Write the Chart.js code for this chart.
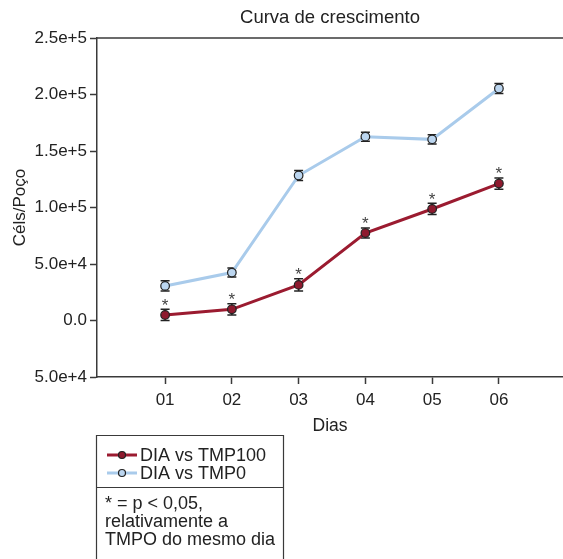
<!DOCTYPE html>
<html>
<head>
<meta charset="utf-8">
<script src="https://cdn.jsdelivr.net/npm/chart.js@4/dist/chart.umd.min.js"></script>
<style>
  html, body { margin: 0; padding: 0; background: #fff; }
  canvas { display: block; }
</style>
</head>
<body>
<canvas id="c" width="563" height="559"></canvas>
<script>
// Growth curve: cells per well over six days, two conditions
const days = [1, 2, 3, 4, 5, 6];
const dayLabels = ['01', '02', '03', '04', '05', '06'];
const tmp100 = [4900, 9900, 31500, 77400, 98700, 121200];
const tmp100Err = [5000, 5000, 5500, 4500, 5000, 5000];
const tmp0 = [30600, 42400, 128300, 162700, 160300, 205300];
const tmp0Err = [4500, 4000, 4500, 4000, 4000, 4500];
const significant = [true, true, true, true, true, true];
const yTickValues = [-50000, 0, 50000, 100000, 150000, 200000, 250000];
const yTickLabels = ['5.0e+4', '0.0', '5.0e+4', '1.0e+5', '1.5e+5', '2.0e+5', '2.5e+5'];
const seriesNames = ['DIA vs TMP100', 'DIA vs TMP0'];
const noteLines = ['* = p < 0,05,', 'relativamente a', 'TMPO do mesmo dia'];
const chartTitle = 'Curva de crescimento';

const FONT = "'Liberation Sans', Arial, sans-serif";
const AXIS = '#3a3a3a';
const TEXT = '#222';
const RED = '#9b1b30';
const RED_FILL = '#8e1a2e';
const BLUE = '#a9cbeb';
const BLUE_FILL = '#bcd6f0';

Chart.defaults.font.family = FONT;
Chart.defaults.color = TEXT;

const toPoints = vals => days.map((d, i) => ({ x: d, y: vals[i] }));

// Error bars, significance marks, top frame line, title and legend box
const decorations = {
  id: 'decorations',
  beforeDatasetsDraw(chart) {
    const { ctx, scales } = chart;
    const x = scales.x, y = scales.y;
    const errs = [tmp100Err, tmp0Err];
    ctx.save();
    ctx.strokeStyle = '#222';
    ctx.lineWidth = 1.5;
    chart.data.datasets.forEach((ds, di) => {
      ds.data.forEach((p, i) => {
        const px = x.getPixelForValue(p.x);
        const top = y.getPixelForValue(p.y + errs[di][i]);
        const bot = y.getPixelForValue(p.y - errs[di][i]);
        ctx.beginPath();
        ctx.moveTo(px, top); ctx.lineTo(px, bot);
        ctx.moveTo(px - 4.5, top); ctx.lineTo(px + 4.5, top);
        ctx.moveTo(px - 4.5, bot); ctx.lineTo(px + 4.5, bot);
        ctx.stroke();
      });
    });
    ctx.restore();
  },
  afterDraw(chart) {
    const { ctx, chartArea, scales } = chart;
    const x = scales.x, y = scales.y;
    ctx.save();
    // frame line across the top of the plot
    ctx.strokeStyle = AXIS;
    ctx.lineWidth = 1.5;
    ctx.beginPath();
    ctx.moveTo(chartArea.left, chartArea.top);
    ctx.lineTo(chartArea.right, chartArea.top);
    ctx.stroke();

    // significance marks above the TMP100 series
    ctx.fillStyle = '#444';
    ctx.font = '17px ' + FONT;
    ctx.textAlign = 'center';
    ctx.textBaseline = 'alphabetic';
    days.forEach((d, i) => {
      if (!significant[i]) return;
      const px = x.getPixelForValue(d);
      const py = y.getPixelForValue(tmp100[i] + tmp100Err[i]) - 8;
      ctx.fillText('*', px, py + 9.5);
    });

    // title
    ctx.fillStyle = TEXT;
    ctx.font = '18.5px ' + FONT;
    ctx.textBaseline = 'middle';
    ctx.fillText(chartTitle, (chartArea.left + chartArea.right) / 2, 18);

    // legend box
    const bx = 96.5, bRight = 283.5, bTop = 435.5, bDiv = 487.5, bBottom = 560;
    ctx.strokeStyle = AXIS;
    ctx.lineWidth = 1.2;
    ctx.beginPath();
    ctx.moveTo(bx, bBottom); ctx.lineTo(bx, bTop); ctx.lineTo(bRight, bTop); ctx.lineTo(bRight, bBottom);
    ctx.moveTo(bx, bDiv); ctx.lineTo(bRight, bDiv);
    ctx.stroke();

    const rows = [455, 473];
    chart.data.datasets.forEach((ds, di) => {
      const ry = rows[di];
      ctx.strokeStyle = ds.borderColor;
      ctx.lineWidth = 3;
      ctx.beginPath();
      ctx.moveTo(107, ry); ctx.lineTo(137, ry);
      ctx.stroke();
      ctx.beginPath();
      ctx.arc(122, ry, 3.5, 0, Math.PI * 2);
      ctx.fillStyle = ds.pointBackgroundColor;
      ctx.fill();
      ctx.strokeStyle = '#222';
      ctx.lineWidth = 1.2;
      ctx.stroke();
      ctx.fillStyle = TEXT;
      ctx.textAlign = 'left';
      ctx.font = '18px ' + FONT;
      ctx.fillText(ds.label, 140, ry + 1);
    });

    ctx.textAlign = 'left';
    noteLines.forEach((t, i) => {
      ctx.fillText(t, 105, 504 + i * 18);
    });
    ctx.restore();
  }
};

new Chart(document.getElementById('c'), {
  type: 'line',
  data: {
    datasets: [
      {
        label: seriesNames[0],
        data: toPoints(tmp100),
        borderColor: RED,
        borderWidth: 3,
        pointBackgroundColor: RED_FILL,
        pointBorderColor: '#222',
        pointBorderWidth: 1.2,
        pointRadius: 4.3,
        tension: 0
      },
      {
        label: seriesNames[1],
        data: toPoints(tmp0),
        borderColor: BLUE,
        borderWidth: 3,
        pointBackgroundColor: BLUE_FILL,
        pointBorderColor: '#222',
        pointBorderWidth: 1.2,
        pointRadius: 4.3,
        tension: 0
      }
    ]
  },
  options: {
    responsive: false,
    animation: false,
    layout: { autoPadding: false, padding: { top: 38, left: 0, right: 0, bottom: 122 } },
    plugins: {
      legend: { display: false },
      title: { display: false },
      tooltip: { enabled: false }
    },
    scales: {
      x: {
        type: 'linear',
        min: -0.02,
        max: 6.96,
        afterFit(s) { s.height = 60; s.paddingRight = 0; s.paddingLeft = 0; },
        afterBuildTicks(s) { s.ticks = days.map(v => ({ value: v })); },
        ticks: {
          font: { size: 17 },
          color: TEXT,
          padding: 6,
          callback: (v) => dayLabels[days.indexOf(v)]
        },
        grid: { drawOnChartArea: false, drawTicks: true, tickLength: 7, tickWidth: 1.5, tickColor: AXIS },
        border: { display: true, color: AXIS, width: 1.5 },
        title: { display: true, text: 'Dias', font: { size: 17.5 }, color: TEXT, padding: { top: 0, bottom: 0 } }
      },
      y: {
        type: 'linear',
        min: -50000,
        max: 250000,
        afterFit(s) { s.width = 97; },
        afterBuildTicks(s) { s.ticks = yTickValues.map(v => ({ value: v })); },
        ticks: {
          font: { size: 17 },
          color: TEXT,
          padding: 3,
          callback: (v) => yTickLabels[yTickValues.indexOf(v)]
        },
        grid: { drawOnChartArea: false, drawTicks: true, tickLength: 7, tickWidth: 1.5, tickColor: AXIS },
        border: { display: true, color: AXIS, width: 1.5 },
        title: { display: true, text: 'Céls/Poço', font: { size: 17 }, color: TEXT, padding: { top: 10, bottom: 0 } }
      }
    }
  },
  plugins: [decorations]
});
</script>
</body>
</html>
